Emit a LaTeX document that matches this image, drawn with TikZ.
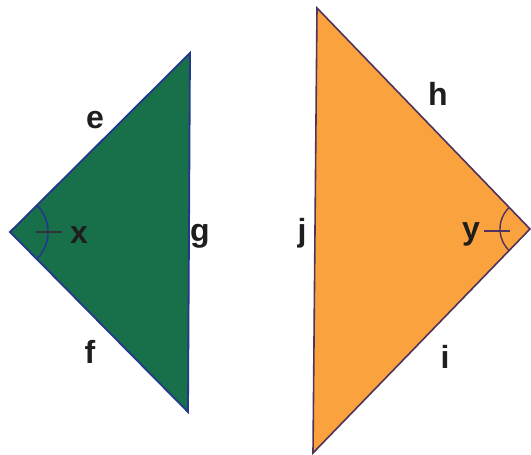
\documentclass[tikz,border=0pt]{standalone}
\usepackage{fontspec}
\setmainfont{Liberation Sans}
\definecolor{grfill}{RGB}{24,112,74}
\definecolor{gredge}{RGB}{35,55,140}
\definecolor{orfill}{RGB}{250,162,62}
\definecolor{oredge}{RGB}{80,50,90}
\definecolor{lbl}{RGB}{30,30,30}
\begin{document}
\begin{tikzpicture}[x=1pt,y=-1pt,
  lab/.style={text=lbl,font=\fontsize{32}{36}\selectfont\bfseries,inner sep=0pt,anchor=base}]
\useasboundingbox (0,0) rectangle (531,455);
% green triangle
\coordinate (A) at (10,232);
\coordinate (B) at (190,53);
\coordinate (C) at (188,412);
\fill[grfill] (A) -- (B) -- (C) -- cycle;
\draw[gredge,line width=1.8pt,line join=miter] (A) -- (B) -- (C) -- cycle;
% orange triangle
\coordinate (P) at (317,8);
\coordinate (Q) at (313,453);
\coordinate (R) at (530,229);
\fill[orfill] (P) -- (Q) -- (R) -- cycle;
\draw[oredge,line width=1.6pt,line join=miter] (P) -- (Q) -- (R) -- cycle;
% angle x
\draw[gredge,line width=1.6pt] ([shift={(-45:38)}]A) arc[start angle=-45,end angle=45,radius=38];
\coordinate (xt1) at (36,232);
\coordinate (xt2) at (62,232);
\draw[black!80,line width=1.4pt] (xt1) -- (xt2);
% angle y
\draw[oredge,line width=1.4pt] ([shift={(134:30)}]R) arc[start angle=134,end angle=226,radius=30];
\coordinate (yt1) at (484,231);
\coordinate (yt2) at (510,231);
\draw[oredge,line width=1.4pt] (yt1) -- (yt2);
% labels
\node[lab] (le) at (95,128) {e};
\node[lab] (lf) at (90,363) {f};
\node[lab] (lg) at (200,241) {g};
\node[lab] (lx) at (79,243) {x};
\node[lab] (lh) at (438,105) {h};
\node[lab] (li) at (445,368) {i};
\node[lab] (lj) at (302,241) {j};
\node[lab] (ly) at (471,239) {y};
\end{tikzpicture}
\end{document}
